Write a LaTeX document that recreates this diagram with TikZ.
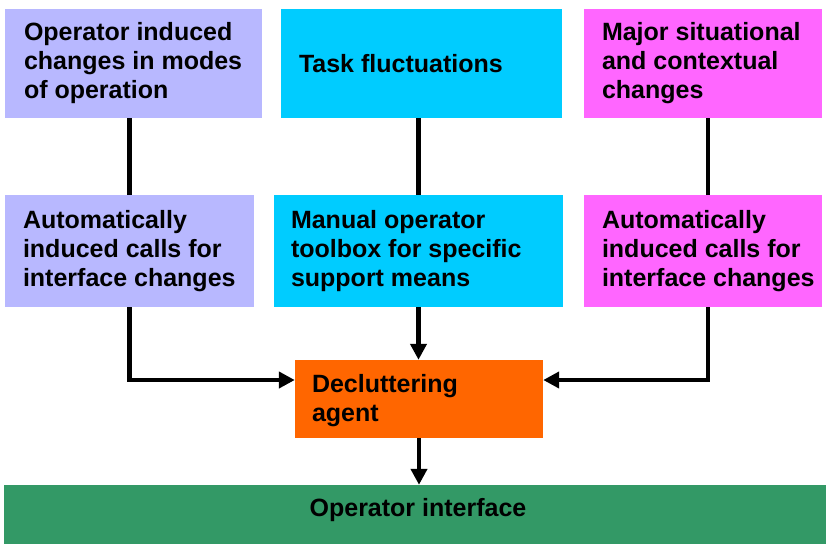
\documentclass[tikz,border=0pt]{standalone}
\usepackage{fontspec}
\setmainfont{Liberation Sans}
\usetikzlibrary{arrows.meta}
\definecolor{lavender}{HTML}{B8B8FF}
\definecolor{skycyan}{HTML}{00CCFF}
\definecolor{pinkmag}{HTML}{FF66FF}
\definecolor{orangebox}{HTML}{FF6600}
\definecolor{greenbox}{HTML}{339966}
\begin{document}
\begin{tikzpicture}[x=1pt,y=-1pt,
  box/.style={draw=none, inner sep=0pt},
  txt/.style={inner sep=0pt, align=left, anchor=west,
    font=\fontsize{25}{29}\selectfont\bfseries},
  wire/.style={line width=4.5pt},
  arr/.style={line width=4.5pt, -{Triangle[length=16pt,width=16pt]}}]
\useasboundingbox (0,0) rectangle (826,544);
% top row
\node[box, fill=lavender, minimum width=257pt, minimum height=109pt] (tl) at (133.5,63.5) {};
\node[box, fill=skycyan,  minimum width=281pt, minimum height=109pt] (tm) at (421.5,63.5) {};
\node[box, fill=pinkmag,  minimum width=238pt, minimum height=109pt] (tr) at (703,63.5) {};
\node[txt] (tlt) at ([xshift=19pt]tl.west) {Operator induced\\changes in modes\\of operation};
\node[txt] (tmt) at ([xshift=18pt]tm.west) {Task fluctuations};
\node[txt] (trt) at ([xshift=18pt]tr.west) {Major situational\\and contextual\\changes};
% middle row
\node[box, fill=lavender, minimum width=249pt, minimum height=112pt] (ml) at (129.5,251) {};
\node[box, fill=skycyan,  minimum width=289pt, minimum height=112pt] (mm) at (418.5,251) {};
\node[box, fill=pinkmag,  minimum width=238pt, minimum height=112pt] (mr) at (703,251) {};
\node[txt] (mlt) at ([xshift=18pt]ml.west) {Automatically\\induced calls for\\interface changes};
\node[txt] (mmt) at ([xshift=17pt]mm.west) {Manual operator\\toolbox for specific\\support means};
\node[txt] (mrt) at ([xshift=18pt]mr.west) {Automatically\\induced calls for\\interface changes};
% agent and interface
\node[box, fill=orangebox, minimum width=248pt, minimum height=78pt] (dec) at (419,399) {};
\node[txt] (dect) at ([xshift=17pt,yshift=-1.5pt]dec.west) {Decluttering\\agent};
\node[box, fill=greenbox, minimum width=822pt, minimum height=59pt] (oi) at (415,514.5) {};
\node[txt, anchor=center] (oit) at ([xshift=3pt,yshift=4pt]oi.center) {Operator interface};
% connectors
\draw[wire] (tl.south -| ml.north) -- (ml.north);
\draw[wire] (tm.south -| mm.north) -- (mm.north);
\draw[wire] ([xshift=5pt]tr.south) -- ([xshift=5pt]mr.north);
\draw[arr] (ml.south) |- ([yshift=19pt]dec.west);
\draw[arr] (mm.south) -- (mm.south |- dec.north);
\draw[arr] ([xshift=5pt]mr.south) |- ([yshift=19pt]dec.east);
\draw[arr] (dec.south) -- (dec.south |- oi.north);
\end{tikzpicture}
\end{document}
